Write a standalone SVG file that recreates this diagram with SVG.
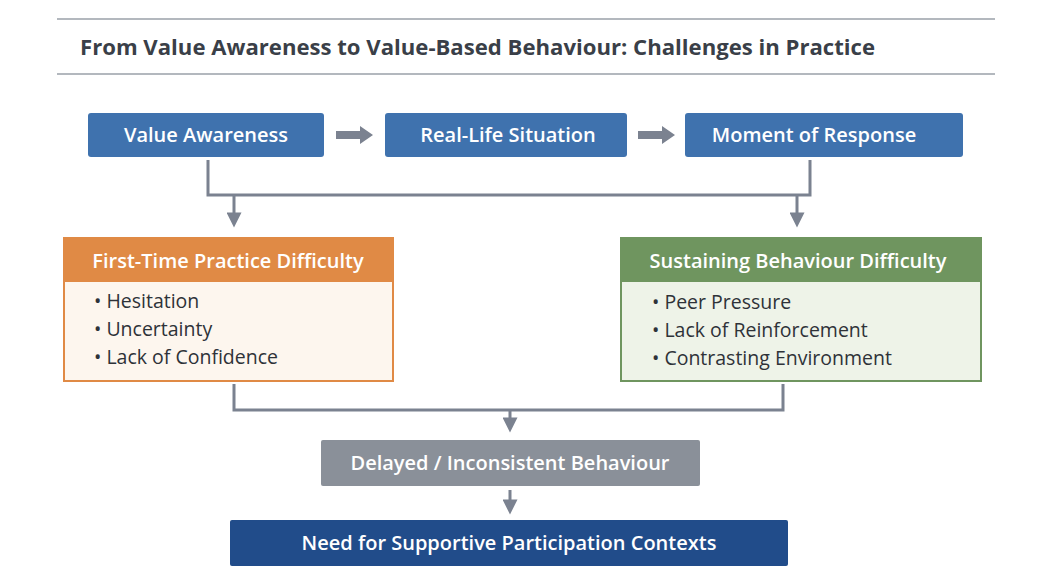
<svg xmlns="http://www.w3.org/2000/svg" width="1048" height="586" viewBox="0 0 1048 586">
<style>
text{font-family:"Open Sans","Liberation Sans",sans-serif}
.h{fill:#fff;font-weight:600;font-size:20px;text-anchor:middle}
.b{fill:#2e3238;font-size:19.5px}
.c{fill:none;stroke:#7b8290;stroke-width:3}
.ah{fill:#7b8290}
</style>
<defs>
<marker id="a" viewBox="0 0 10 10" refX="5" refY="5" markerWidth="6" markerHeight="5" orient="auto" markerUnits="strokeWidth"><path d="M0,0L10,5L0,10Z" fill="#7b8290"/></marker>
</defs>
<rect width="1048" height="586" fill="#fff"/>
<g id="title">
<line x1="57" y1="19" x2="995" y2="19" stroke="#9aa0a8" stroke-width="1.5"/>
<line x1="57" y1="74" x2="995" y2="74" stroke="#9aa0a8" stroke-width="1.5"/>
<text x="80" y="55" font-size="22" font-weight="700" fill="#3a3f48" textLength="795" lengthAdjust="spacingAndGlyphs">From Value Awareness to Value-Based Behaviour: Challenges in Practice</text>
</g>
<g id="connectors">
<path class="ah" d="M336,131H360V126L373,135L360,144V139H336Z"/>
<path class="ah" d="M638,131H662V126L675,135L662,144V139H638Z"/>
<path class="c" d="M208,160V195H810V160"/>
<line class="c" x1="234" y1="195" x2="234" y2="220" marker-end="url(#a)"/>
<line class="c" x1="797" y1="195" x2="797" y2="220" marker-end="url(#a)"/>
<path class="c" d="M234,384V410H783V384"/>
<line class="c" x1="510" y1="410" x2="510" y2="425" marker-end="url(#a)"/>
<line class="c" x1="510" y1="490" x2="510" y2="507" marker-end="url(#a)"/>
</g>
<g id="n1"><rect x="88" y="113" width="236" height="44" rx="3" fill="#3f72ae"/><text class="h" x="206" y="142">Value Awareness</text></g>
<g id="n2"><rect x="385" y="113" width="242" height="44" rx="3" fill="#3f72ae"/><text class="h" x="508" y="142">Real-Life Situation</text></g>
<g id="n3"><rect x="685" y="113" width="278" height="44" rx="3" fill="#3f72ae"/><text class="h" x="814" y="142">Moment of Response</text></g>
<g id="n4">
<rect x="64" y="238" width="329" height="143" fill="#fdf6ee" stroke="#e08a45" stroke-width="2"/>
<rect x="64" y="238" width="329" height="44" fill="#e08a45"/>
<text class="h" x="228" y="268">First-Time Practice Difficulty</text>
<text class="b" x="94" y="308">• Hesitation</text>
<text class="b" x="94" y="336">• Uncertainty</text>
<text class="b" x="94" y="364">• Lack of Confidence</text>
</g>
<g id="n5">
<rect x="621" y="238" width="360" height="143" fill="#eef3e8" stroke="#6f955f" stroke-width="2"/>
<rect x="621" y="238" width="360" height="44" fill="#6f955f"/>
<text class="h" x="798" y="268">Sustaining Behaviour Difficulty</text>
<text class="b" x="652" y="309">• Peer Pressure</text>
<text class="b" x="652" y="337">• Lack of Reinforcement</text>
<text class="b" x="652" y="365">• Contrasting Environment</text>
</g>
<g id="n6"><rect x="321" y="440" width="379" height="46" rx="2" fill="#8a9099"/><text class="h" x="510" y="470">Delayed / Inconsistent Behaviour</text></g>
<g id="n7"><rect x="230" y="520" width="558" height="46" rx="2" fill="#214c8a"/><text class="h" x="509" y="550">Need for Supportive Participation Contexts</text></g>
</svg>
